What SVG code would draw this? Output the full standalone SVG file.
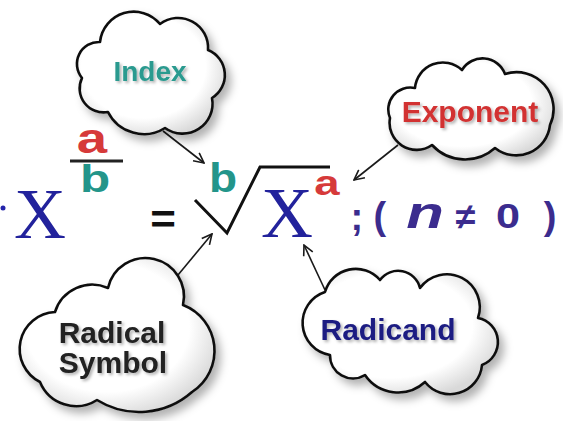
<svg xmlns="http://www.w3.org/2000/svg" width="563" height="421" viewBox="0 0 563 421">
  <defs>
    <style>
      .cloud { fill: url(#cloudFill); stroke: #111; stroke-width: 2.6; stroke-linejoin: round; filter: url(#shadow); }
      .label { font-family: "Liberation Sans", Arial, sans-serif; font-weight: bold; font-size: 30px; text-anchor: middle; filter: url(#glow); }
      .eq { font-family: "Liberation Sans", Arial, sans-serif; font-weight: bold; text-anchor: middle; }
      .big { font-family: "Liberation Serif", "Times New Roman", serif; font-size: 72px; fill: #22229c; text-anchor: middle; }
      .conn { stroke: #1a1a1a; stroke-width: 1.6; fill: none; marker-end: url(#arrow); }
    </style>
    <radialGradient id="cloudFill" cx="0.45" cy="0.45" r="0.6">
      <stop offset="0" stop-color="#ffffff"/>
      <stop offset="0.7" stop-color="#ffffff"/>
      <stop offset="1" stop-color="#d9d9d9"/>
    </radialGradient>
    <filter id="shadow" x="-20%" y="-20%" width="150%" height="150%">
      <feDropShadow dx="5" dy="6" stdDeviation="4" flood-color="#000" flood-opacity="0.3"/>
    </filter>
    <filter id="glow" x="-20%" y="-30%" width="150%" height="170%">
      <feDropShadow dx="2" dy="2" stdDeviation="1.8" flood-color="#000" flood-opacity="0.3"/>
    </filter>
    <marker id="arrow" viewBox="0 0 12 12" refX="11" refY="6" markerWidth="12" markerHeight="12" markerUnits="userSpaceOnUse" orient="auto">
      <path d="M1,1 L11,6 L1,11" fill="none" stroke="#1a1a1a" stroke-width="1.6"/>
    </marker>
  </defs>
  <rect width="563" height="421" fill="#ffffff"/>

  <g id="connectors">
    <line class="conn" x1="163" y1="131" x2="204" y2="163"/>
    <line class="conn" x1="398" y1="145" x2="354" y2="180"/>
    <line class="conn" x1="178" y1="275" x2="212" y2="234"/>
    <line class="conn" x1="325" y1="290" x2="304" y2="245"/>
  </g>

  <g id="index">
    <path class="cloud" d="M100,42 A34,34 0 0 1 160,24 A30,30 0 0 1 208,50 A27,27 0 0 1 212,98 A30,30 0 0 1 165,128 A40,40 0 0 1 108,112 A24,24 0 0 1 82,78 A22,22 0 0 1 100,42 Z"/>
    <text class="label" x="150" y="81" fill="#2a9a8f" style="font-size:28px">Index</text>
  </g>

  <g id="exponent">
    <path class="cloud" d="M415,88 A28,28 0 0 1 462,70 A24,24 0 0 1 505,74 A37,37 0 0 1 550,125 A34,34 0 0 1 495,148 A45,45 0 0 1 432,145 A27,27 0 0 1 390,118 A22,22 0 0 1 415,88 Z"/>
    <text class="label" x="470" y="122" fill="#d23232">Exponent</text>
  </g>

  <g id="radical-symbol">
    <path class="cloud" d="M108,288 A38,38 0 0 1 183,305 A49,49 0 0 1 192,392 A80,80 0 0 1 97,400 A39,39 0 0 1 40,382 A37,37 0 0 1 55,312 A39,39 0 0 1 108,288 Z"/>
    <text class="label" x="112" y="343" fill="#222222">Radical</text>
    <text class="label" x="113" y="373" fill="#222222">Symbol</text>
  </g>

  <g id="radicand">
    <path class="cloud" d="M325,292 A32,32 0 0 1 380,280 A22.5,22.5 0 0 1 420,288 A33,33 0 0 1 478,318 A24.5,24.5 0 0 1 482,365 A32,32 0 0 1 425,382 A40,40 0 0 1 365,375 A23,23 0 0 1 330,355 A32.5,32.5 0 0 1 325,292 Z"/>
    <text class="label" x="388" y="340" fill="#1c1c82">Radicand</text>
  </g>

  <g id="equation">
    <circle cx="3" cy="208" r="2.5" fill="#2323aa"/>
    <text class="big" x="40" y="238">X</text>
    <text class="eq" transform="translate(92,153) scale(1.3,1)" font-size="42" fill="#d63a3a">a</text>
    <line x1="70" y1="161" x2="123" y2="161" stroke="#222" stroke-width="3"/>
    <text class="eq" transform="translate(95,192) scale(1.3,1)" font-size="38" fill="#23958a">b</text>
    <text class="eq" transform="translate(163,233) scale(1.1,1)" font-size="40" fill="#111">=</text>
    <text class="eq" transform="translate(223,192) scale(1.15,1)" font-size="40" fill="#23958a">b</text>
    <path d="M195,200 L227,233 L260,167 L330,167" fill="none" stroke="#111" stroke-width="3"/>
    <text class="big" x="287" y="237">X</text>
    <text class="eq" transform="translate(327,195) scale(1.3,1)" font-size="35" fill="#d63a3a">a</text>
    <text class="eq" fill="#3b2c8e" font-size="38">
      <tspan x="362" y="230">;</tspan>
      <tspan x="385" y="229">(</tspan>
      <tspan x="471" y="229" font-size="36">≠</tspan>
      <tspan x="550" y="229">)</tspan>
    </text>
    <text class="eq" transform="translate(425,228) scale(1.4,1)" font-size="44" font-style="italic" fill="#3b2c8e">n</text>
    <text class="eq" transform="translate(508,228) scale(1.2,1)" font-size="36" fill="#3b2c8e">0</text>
  </g>
</svg>
